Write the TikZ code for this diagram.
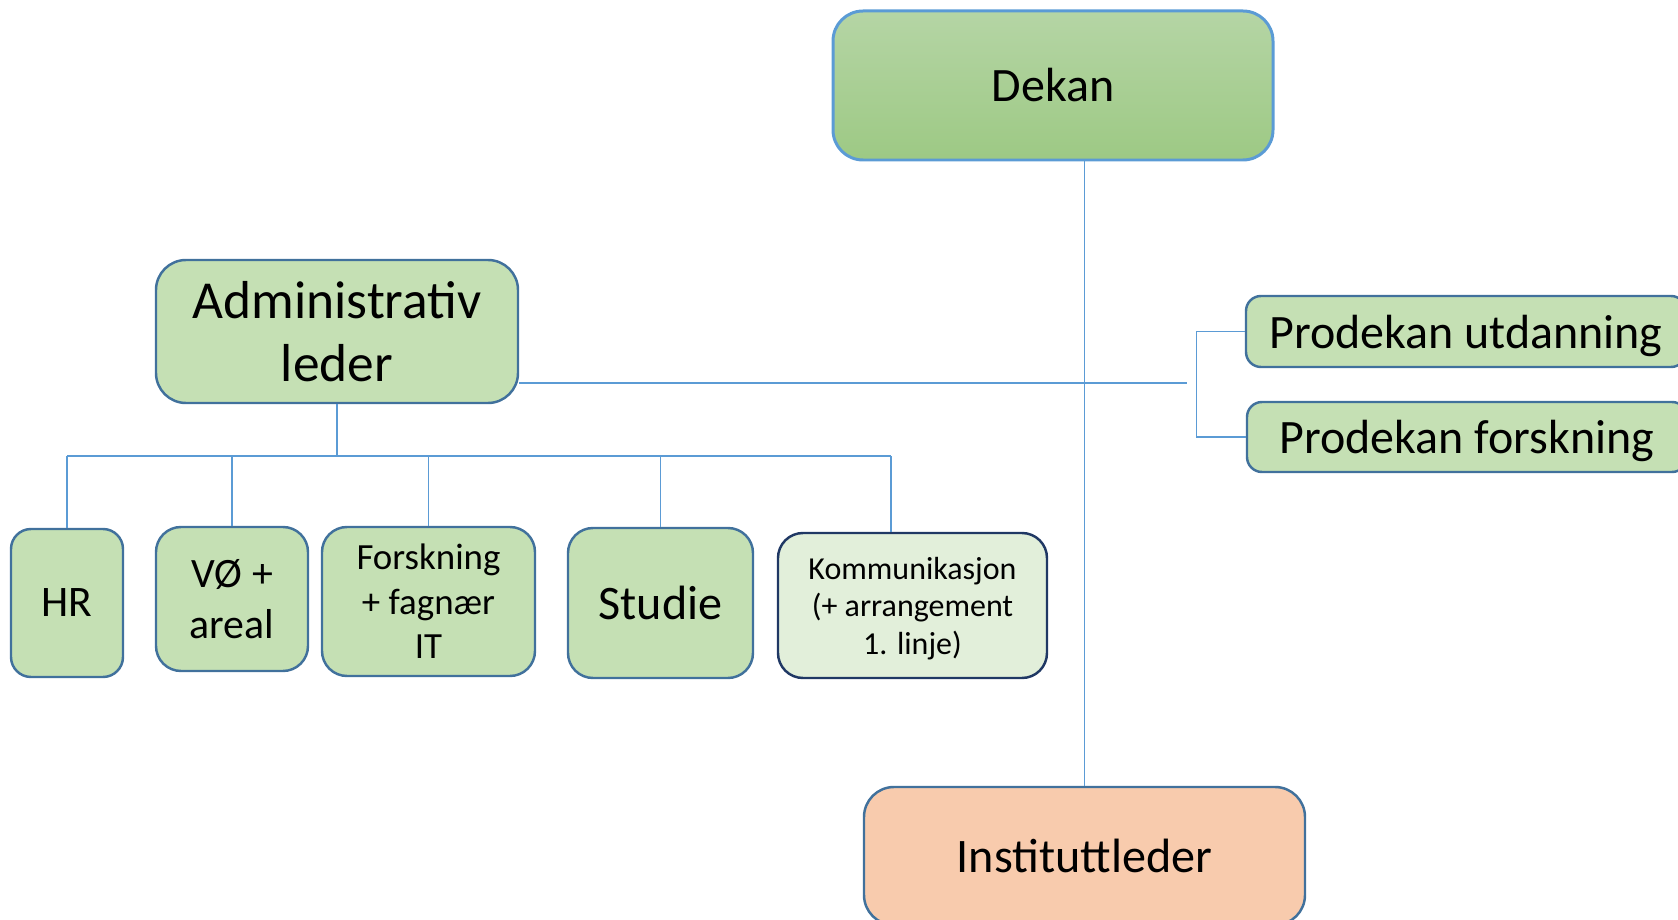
\documentclass[tikz,border=0pt]{standalone}
\usepackage[usenames, dvipsnames]{xcolor}
\usepackage{fontspec}
\setmainfont{Carlito}

\definecolor{linkblue}{HTML}{5B9BD5}
\definecolor{edgeblue}{HTML}{41719C}
\definecolor{navyedge}{HTML}{203864}
\definecolor{boxgreen}{HTML}{C5E0B4}
\definecolor{palegreen}{HTML}{E2EFDA}
\definecolor{dekantop}{HTML}{B5D5A5}
\definecolor{dekanbottom}{HTML}{9DC984}
\definecolor{peach}{HTML}{F8CBAD}

\newcommand{\boxfont}[2]{\fontsize{#1}{#2}\selectfont}

\tikzset{
    unit/.style={draw=edgeblue, line width=1.4pt, fill=boxgreen, rounded corners=0.5cm, align=center, inner sep=0pt},
    link/.style={draw=linkblue, line width=0.7pt}
}

\begin{document}
\begin{tikzpicture}
    \useasboundingbox (0,0) rectangle (33.56,18.38);
    \clip (0,0) rectangle (33.56,18.38);

    \node[unit, draw=linkblue, line width=1.7pt, top color=dekantop, bottom color=dekanbottom, rounded corners=0.6cm, minimum width=8.8cm, minimum height=2.98cm, font=\boxfont{27.3}{33}] (dekan) at (21.06,16.67) {Dekan};
    \node[unit, rounded corners=0.6cm, minimum width=7.24cm, minimum height=2.86cm, font=\boxfont{30.4}{35.9}] (admin) at (6.74,11.75) {Administrativ\\leder};
    \node[unit, rounded corners=0.3cm, minimum width=8.8cm, minimum height=1.42cm, text depth=0pt, font=\boxfont{27.3}{33}] (putd) at (29.32,11.75) {Prodekan utdanning};
    \node[unit, rounded corners=0.3cm, minimum width=8.8cm, minimum height=1.4cm, text depth=0pt, font=\boxfont{27.3}{33}] (pforsk) at (29.34,9.64) {Prodekan forskning};

    \node[unit, rounded corners=0.4cm, minimum width=2.24cm, minimum height=2.96cm, font=\boxfont{24.8}{30}] (hr) at (1.34,6.32) {HR};
    \node[unit, minimum width=3.04cm, minimum height=2.88cm, font=\boxfont{23.8}{28.6}] (vo) at (4.64,6.40) {VØ +\\areal};
    \node[unit, minimum width=4.26cm, minimum height=2.98cm, font=\boxfont{21}{25.3}] (fou) at (8.57,6.35) {Forskning\\+ fagnær\\IT};
    \node[unit, minimum width=3.7cm, minimum height=3cm, font=\boxfont{27.4}{33}] (studie) at (13.21,6.32) {Studie};
    \node[unit, draw=navyedge, fill=palegreen, minimum width=5.38cm, minimum height=2.9cm, text depth=0pt, font=\boxfont{18.2}{21.3}] (komm) at (18.25,6.27) {Kommunikasjon\\(+ arrangement\\1. linje)};

    \node[unit, fill=peach, rounded corners=0.6cm, minimum width=8.82cm, minimum height=2.76cm, font=\boxfont{27.4}{33}] (inst) at (21.69,1.26) {Instituttleder};

    \coordinate (bus) at (0,9.26);
    \coordinate (cross) at (23.74,10.72);
    \coordinate (kommtop) at ([xshift=-0.43cm]komm.north);

    \draw[link] (dekan.south -| inst.north) -- (inst.north);
    \draw[link] (admin.east |- cross) -- (cross);
    \draw[link] (putd.west) -- ++(-0.96,0) |- (pforsk.west);
    \draw[link] (admin.south) -- (admin.south |- bus);
    \draw[link] (hr.north |- bus) -- (kommtop |- bus);
    \foreach \n in {hr,vo,fou,studie,kommtop}
        \draw[link] (\n.north) -- (\n.north |- bus);
\end{tikzpicture}
\end{document}
